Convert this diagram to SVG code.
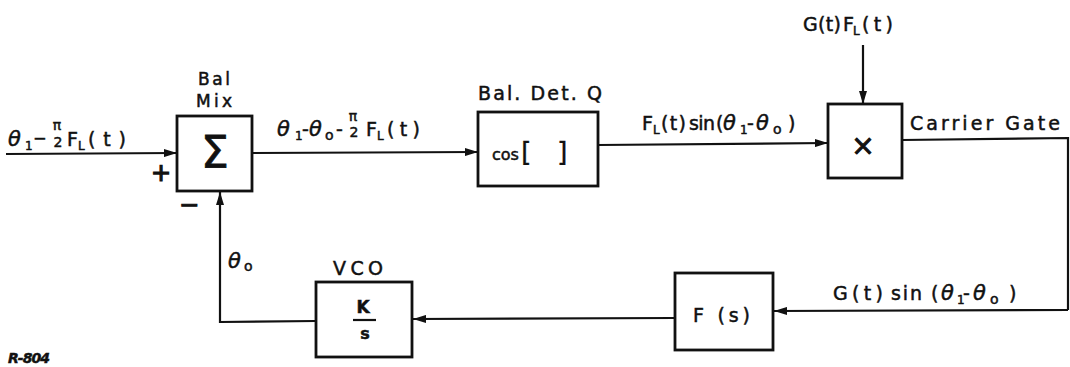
<svg xmlns="http://www.w3.org/2000/svg" width="1070" height="367" viewBox="0 0 1070 367">
<defs>
<style>
.box{fill:none;stroke:#111;stroke-width:2.8}
.ln{fill:none;stroke:#111;stroke-width:2.2}
text{font-family:"DejaVu Sans","Liberation Sans",sans-serif;fill:#111;stroke:#111;stroke-width:0.5;font-size:19px}
.c{text-anchor:middle}
.th{font-style:italic;font-size:21px}
.s{font-size:12px}
.o{font-size:14px}
.f{font-size:14px}
</style>
<marker id="ar" viewBox="0 0 13 8" refX="13" refY="4" markerWidth="13" markerHeight="8" markerUnits="userSpaceOnUse" orient="auto">
<path d="M0,0 L13,4 L0,8 Z" fill="#111"/>
</marker>
</defs>
<g id="connectors">
<line class="ln" x1="6" y1="154" x2="177" y2="153" marker-end="url(#ar)"/>
<line class="ln" x1="252" y1="153" x2="478" y2="152" marker-end="url(#ar)"/>
<line class="ln" x1="598" y1="145" x2="828" y2="143" marker-end="url(#ar)"/>
<line class="ln" x1="863" y1="45" x2="863" y2="104" marker-end="url(#ar)"/>
<polyline class="ln" points="902,140 1068,138 1068,310"/>
<line class="ln" x1="1068" y1="310" x2="774" y2="311" marker-end="url(#ar)"/>
<line class="ln" x1="675" y1="318" x2="413" y2="319" marker-end="url(#ar)"/>
<polyline class="ln" points="316,321 220,322 220,192" marker-end="url(#ar)"/>
</g>
<g id="sum">
<rect class="box" x="177" y="116" width="75" height="75"/>
<text x="198" y="85" textLength="32" lengthAdjust="spacing" style="font-size:17px">Bal</text>
<text x="196" y="107" textLength="36" lengthAdjust="spacing" style="font-size:17px">Mix</text>
<text class="c" x="215" y="168" style="font-size:44px;stroke-width:0.8">Σ</text>
<text class="c" x="161" y="181" style="font-size:24px;stroke-width:1.2">+</text>
<text class="c" x="189" y="213" style="font-size:24px;stroke-width:1.2">−</text>
</g>
<g id="baldet">
<rect class="box" x="478" y="112" width="120" height="74"/>
<text x="478" y="100" textLength="124" lengthAdjust="spacing">Bal. Det. Q</text>
<text x="492" y="160" style="font-size:16px">cos</text>
<text x="521" y="161" style="font-size:27px;stroke-width:0.3">[</text>
<text x="557" y="161" style="font-size:27px;stroke-width:0.3">]</text>
</g>
<g id="mult">
<rect class="box" x="828" y="104" width="74" height="74"/>
<text class="c" x="863" y="155" style="font-size:28px;stroke-width:1">×</text>
<text x="803" y="31" textLength="38" lengthAdjust="spacing">G(t)</text>
<text x="843" y="31">F</text>
<text class="s" x="853" y="35">L</text>
<text x="862" y="31" textLength="31" lengthAdjust="spacing">(t)</text>
<text x="910" y="130" textLength="150" lengthAdjust="spacing">Carrier Gate</text>
</g>
<g id="filter">
<rect class="box" x="675" y="273" width="98" height="77"/>
<text x="693" y="322" textLength="57" lengthAdjust="spacing">F (s)</text>
</g>
<g id="vco">
<rect class="box" x="316" y="282" width="96" height="75"/>
<text x="333" y="275" textLength="50" lengthAdjust="spacing">VCO</text>
<text class="c" x="363" y="313" style="font-size:17px;font-weight:bold">K</text>
<line x1="353" y1="320" x2="376" y2="320" stroke="#111" stroke-width="2.2"/>
<text class="c" x="365" y="339" style="font-size:16px;font-weight:bold">s</text>
</g>
<g id="labels">
<text class="th" x="8" y="146">θ</text>
<text class="s" x="25" y="150">1</text>
<text x="33" y="144" style="font-size:16px">−</text>
<text class="c f" x="57" y="130">π</text>
<text class="c f" x="58" y="147">2</text>
<text x="67" y="146">F</text>
<text class="s" x="78" y="150">L</text>
<text x="88" y="146" textLength="38" lengthAdjust="spacing">(t)</text>

<text class="th" x="277" y="136">θ</text>
<text class="s" x="295" y="140">1</text>
<text x="302" y="136">-</text>
<text class="th" x="309" y="136">θ</text>
<text class="o" x="325" y="140">o</text>
<text x="336" y="136">-</text>
<text class="c f" x="353" y="121">π</text>
<text class="c f" x="354" y="137">2</text>
<text x="366" y="136">F</text>
<text class="s" x="377" y="140">L</text>
<text x="387" y="136" textLength="33" lengthAdjust="spacing">(t)</text>

<text x="642" y="130">F</text>
<text class="s" x="653" y="134">L</text>
<text x="661" y="130" textLength="25" lengthAdjust="spacing">(t)</text>
<text x="689" y="130" textLength="26" lengthAdjust="spacing">sin</text>
<text x="716" y="130">(</text>
<text class="th" x="723" y="130">θ</text>
<text class="s" x="740" y="134">1</text>
<text x="747" y="130">-</text>
<text class="th" x="756" y="130">θ</text>
<text class="o" x="773" y="134">o</text>
<text x="788" y="130">)</text>

<text x="833" y="300" textLength="50" lengthAdjust="spacing">G(t)</text>
<text x="891" y="300" textLength="31" lengthAdjust="spacing">sin</text>
<text x="931" y="300">(</text>
<text class="th" x="941" y="300">θ</text>
<text class="s" x="957" y="304">1</text>
<text x="963" y="300">-</text>
<text class="th" x="973" y="300">θ</text>
<text class="o" x="990" y="304">o</text>
<text x="1009" y="300">)</text>

<text class="th" x="228" y="268">θ</text>
<text class="o" x="244" y="271">o</text>
<text x="8" y="363" textLength="42" lengthAdjust="spacing" style="font-size:14px;font-style:italic;font-weight:bold">R-804</text>
</g>
</svg>
